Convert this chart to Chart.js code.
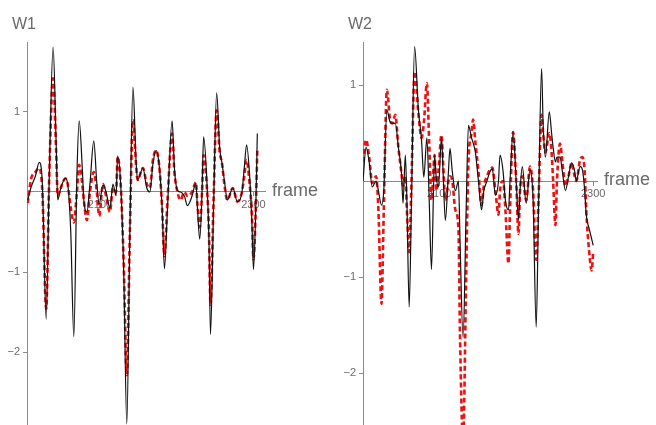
<!DOCTYPE html>
<html>
<head>
<meta charset="utf-8">
<script src="https://cdn.jsdelivr.net/npm/chart.js@4.4.1/dist/chart.umd.min.js"></script>
<style>
  html, body { margin: 0; padding: 0; background: #fff; overflow: hidden; }
  .panel { position: absolute; top: 0; width: 328px; height: 425px; }
</style>
</head>
<body>
<div class="panel" style="left:0"><canvas id="w1Chart" width="328" height="425"></canvas></div>
<div class="panel" style="left:328px"><canvas id="w2Chart" width="328" height="425"></canvas></div>
<script>
// tick labels
const xTicks = [2100, 2300];
const yTicks = [-2, -1, 1];

// W1 panel
const w1Frames = [2006, 2010, 2016, 2021, 2025, 2030, 2034, 2039, 2043, 2045, 2049, 2055, 2058, 2062, 2066, 2070, 2073, 2077, 2079, 2083,
    2087, 2092, 2096, 2099, 2104, 2108, 2113, 2117, 2121, 2123, 2127, 2131, 2135, 2139, 2143, 2147, 2149, 2156, 2161, 2165,
    2169, 2173, 2177, 2181, 2184, 2188, 2194, 2197, 2201, 2205, 2210, 2214, 2220, 2225, 2227, 2230, 2233, 2235, 2239, 2242,
    2244, 2248, 2252, 2256, 2259, 2262, 2266, 2273, 2279, 2285, 2288, 2291, 2295, 2298, 2300, 2303, 2305];
const w1Black = [-0.10, 0.05, 0.20, 0.37, 0.10, -1.59, 0.20, 1.81, 0.60, -0.10, 0.05, 0.17, 0.10, -0.50, -1.81, 0.20, 0.89, 0.30, -0.10, -0.25,
    0.10, 0.64, 0.10, -0.15, 0.09, 0.00, -0.20, 0.10, -0.05, 0.45, 0.10, -1.00, -2.90, -0.50, 1.31, 0.40, 0.15, 0.30, 0.05, 0.00,
    0.35, 0.52, 0.35, -0.20, -0.96, -0.20, 0.89, 0.30, 0.02, 0.00, -0.05, -0.17, -0.05, 0.11, -0.20, -0.59, 0.00, 0.69, 0.20, -0.60,
    -1.78, -0.20, 1.24, 0.55, 0.36, 0.15, -0.10, 0.05, -0.12, 0.00, 0.30, 0.59, 0.20, -0.40, -0.97, -0.20, 0.73];
const w1Red = [-0.14, 0.15, 0.25, 0.30, 0.00, -1.46, 0.20, 1.42, 0.50, -0.05, 0.05, 0.17, 0.10, -0.20, -0.38, 0.00, 0.34, 0.10, -0.10, -0.35,
    0.00, 0.25, 0.00, -0.30, 0.10, -0.05, -0.25, 0.05, 0.00, 0.44, 0.10, -0.90, -2.29, -0.50, 0.90, 0.35, 0.15, 0.30, 0.10, 0.05,
    0.40, 0.52, 0.35, -0.20, -0.80, -0.10, 0.73, 0.25, 0.00, -0.10, 0.00, -0.05, 0.00, 0.12, -0.15, -0.44, 0.00, 0.46, 0.10, -0.50,
    -1.41, -0.10, 1.02, 0.50, 0.36, 0.10, -0.10, 0.05, -0.12, 0.00, 0.20, 0.40, 0.10, -0.30, -0.84, -0.20, 0.52];

// W2 panel
const w2Frames = [2001, 2005, 2009, 2013, 2018, 2021, 2025, 2028, 2032, 2036, 2039, 2043, 2047, 2051, 2053, 2056, 2058, 2061, 2064, 2068,
    2073, 2077, 2080, 2084, 2087, 2090, 2094, 2096, 2099, 2103, 2105, 2108, 2112, 2114, 2117, 2121, 2125, 2127, 2131, 2135,
    2138, 2142, 2144, 2147, 2151, 2155, 2158, 2162, 2166, 2169, 2173, 2177, 2179, 2183, 2186, 2190, 2192, 2196, 2200, 2203,
    2205, 2208, 2213, 2218, 2222, 2226, 2229, 2233, 2235, 2238, 2243, 2246, 2248, 2251, 2253, 2257, 2260, 2264, 2268, 2272,
    2276, 2278, 2283, 2286, 2289, 2291, 2295, 2298, 2300];
const w2Black = [0.00, 0.35, 0.20, -0.06, 0.00, -0.10, -0.25, -0.10, 0.74, 0.62, 0.60, 0.60, 0.35, 0.08, -0.23, 0.27, -0.20, -1.31, -0.20, 1.40,
    0.74, 0.43, 0.04, 0.45, -0.20, -0.92, 0.27, 0.05, -0.06, 0.46, 0.10, -0.41, 0.10, 0.34, 0.10, -0.10, 0.00, -0.60, -1.63, -0.30,
    0.58, 0.45, 0.40, 0.30, 0.00, -0.30, -0.10, 0.00, 0.10, 0.13, -0.15, 0.00, 0.27, 0.10, -0.20, -0.30, 0.00, 0.51, 0.00, -0.40,
    -0.10, 0.15, -0.23, 0.12, -0.20, -1.52, -0.30, 1.17, 0.60, 0.25, 0.72, 0.50, 0.35, 0.20, 0.25, 0.25, 0.10, -0.10, 0.05, 0.19,
    0.10, 0.00, 0.15, 0.12, -0.10, -0.35, -0.50, -0.60, -0.67];
const w2Red = [0.20, 0.43, 0.25, -0.02, 0.05, -0.30, -1.28, -0.30, 0.95, 0.65, 0.60, 0.69, 0.35, 0.08, -0.05, 0.05, -0.30, -0.74, 0.00, 1.14,
    0.70, 0.45, 0.60, 1.02, 0.40, -0.20, 0.27, -0.10, 0.10, 0.48, 0.20, -0.20, 0.00, 0.05, 0.00, -0.30, -0.50, -1.60, -2.70, -1.00,
    0.20, 0.50, 0.64, 0.40, 0.10, -0.25, -0.05, 0.05, 0.12, 0.14, -0.10, -0.35, -0.10, 0.00, -0.30, -0.86, -0.30, 0.51, 0.00, -0.55,
    -0.10, 0.05, -0.20, 0.15, -0.10, -0.82, -0.20, 0.69, 0.50, 0.30, 0.50, 0.30, 0.00, -0.46, 0.00, 0.39, 0.20, -0.05, 0.05, 0.19,
    0.05, 0.00, 0.22, 0.25, 0.10, -0.30, -0.75, -0.93, -0.75];

const axisGray = '#8a8a8a';
const textGray = '#6a6a6a';

// title + "frame" label
const panelText = {
    id: 'panelText',
    afterDraw(chart, args, opts) {
        const ctx = chart.ctx;
        const area = chart.chartArea;
        const y0 = chart.scales.y.getPixelForValue(0);
        ctx.save();
        ctx.fillStyle = textGray;
        ctx.font = '16px "Liberation Sans", Arial, sans-serif';
        ctx.textBaseline = 'alphabetic';
        ctx.textAlign = 'left';
        ctx.fillText(opts.title, opts.titleX, 29);
        ctx.font = '18px "Liberation Sans", Arial, sans-serif';
        ctx.textBaseline = 'middle';
        ctx.fillText('frame', area.right + 7, y0 - 1);
        ctx.restore();
    }
};

function toPoints(frames, values) {
    return frames.map((f, i) => ({ x: f, y: values[i] }));
}

function makePanel(id, cfg) {
    return new Chart(document.getElementById(id).getContext('2d'), {
        type: 'line',
        data: {
            datasets: [
                {
                    data: toPoints(cfg.frames, cfg.black),
                    borderColor: '#111',
                    borderWidth: 1.2,
                    pointRadius: 0,
                    cubicInterpolationMode: 'monotone'
                },
                {
                    data: toPoints(cfg.frames, cfg.red),
                    borderColor: '#ee1111',
                    borderWidth: 2.6,
                    borderDash: [5, 3],
                    pointRadius: 0,
                    cubicInterpolationMode: 'monotone'
                }
            ]
        },
        options: {
            responsive: false,
            animation: false,
            events: [],
            layout: { padding: { left: 0, right: cfg.padRight, top: 42, bottom: 0 } },
            plugins: {
                legend: { display: false },
                tooltip: { enabled: false },
                panelText: { title: cfg.title, titleX: cfg.titleX }
            },
            scales: {
                x: {
                    type: 'linear',
                    position: { y: 0 },
                    min: cfg.xMin,
                    max: cfg.xMax,
                    afterBuildTicks: s => { s.ticks = xTicks.map(v => ({ value: v })); },
                    afterFit: s => { s.paddingLeft = 0; s.paddingRight = 0; },
                    grid: { drawOnChartArea: false, drawTicks: true, tickLength: 4, color: axisGray },
                    border: { color: axisGray, width: 1 },
                    ticks: {
                        color: textGray,
                        font: { family: '"Liberation Sans", Arial, sans-serif', size: 11 },
                        padding: 2,
                        maxRotation: 0,
                        callback: v => String(v)
                    }
                },
                y: {
                    type: 'linear',
                    min: cfg.yMin,
                    max: cfg.yMax,
                    afterFit: s => {
                        s.width = cfg.yWidth;
                        s.paddingTop = 0;
                        s.paddingBottom = 0;
                    },
                    afterBuildTicks: s => { s.ticks = yTicks.map(v => ({ value: v })); },
                    grid: { drawOnChartArea: false, drawTicks: true, tickLength: 4, color: axisGray },
                    border: { color: axisGray, width: 1 },
                    ticks: {
                        color: textGray,
                        font: { family: '"Liberation Sans", Arial, sans-serif', size: 11 },
                        padding: 3,
                        callback: v => (v < 0 ? '\u2212' + Math.abs(v) : String(v))
                    }
                }
            }
        },
        plugins: [panelText]
    });
}

document.addEventListener("DOMContentLoaded", function () {
    try {
        makePanel('w1Chart', {
            title: 'W1', titleX: 12,
            frames: w1Frames, black: w1Black, red: w1Red,
            xMin: 2005, xMax: 2315, yMin: -2.9125, yMax: 1.875,
            yWidth: 27, padRight: 63
        });
        makePanel('w2Chart', {
            title: 'W2', titleX: 20,
            frames: w2Frames, black: w2Black, red: w2Red,
            xMin: 2001, xMax: 2305, yMin: -2.54, yMax: 1.448,
            yWidth: 35, padRight: 59
        });
    } catch (error) {
        console.error("Chart error:", error);
    }
});
</script>
</body>
</html>
